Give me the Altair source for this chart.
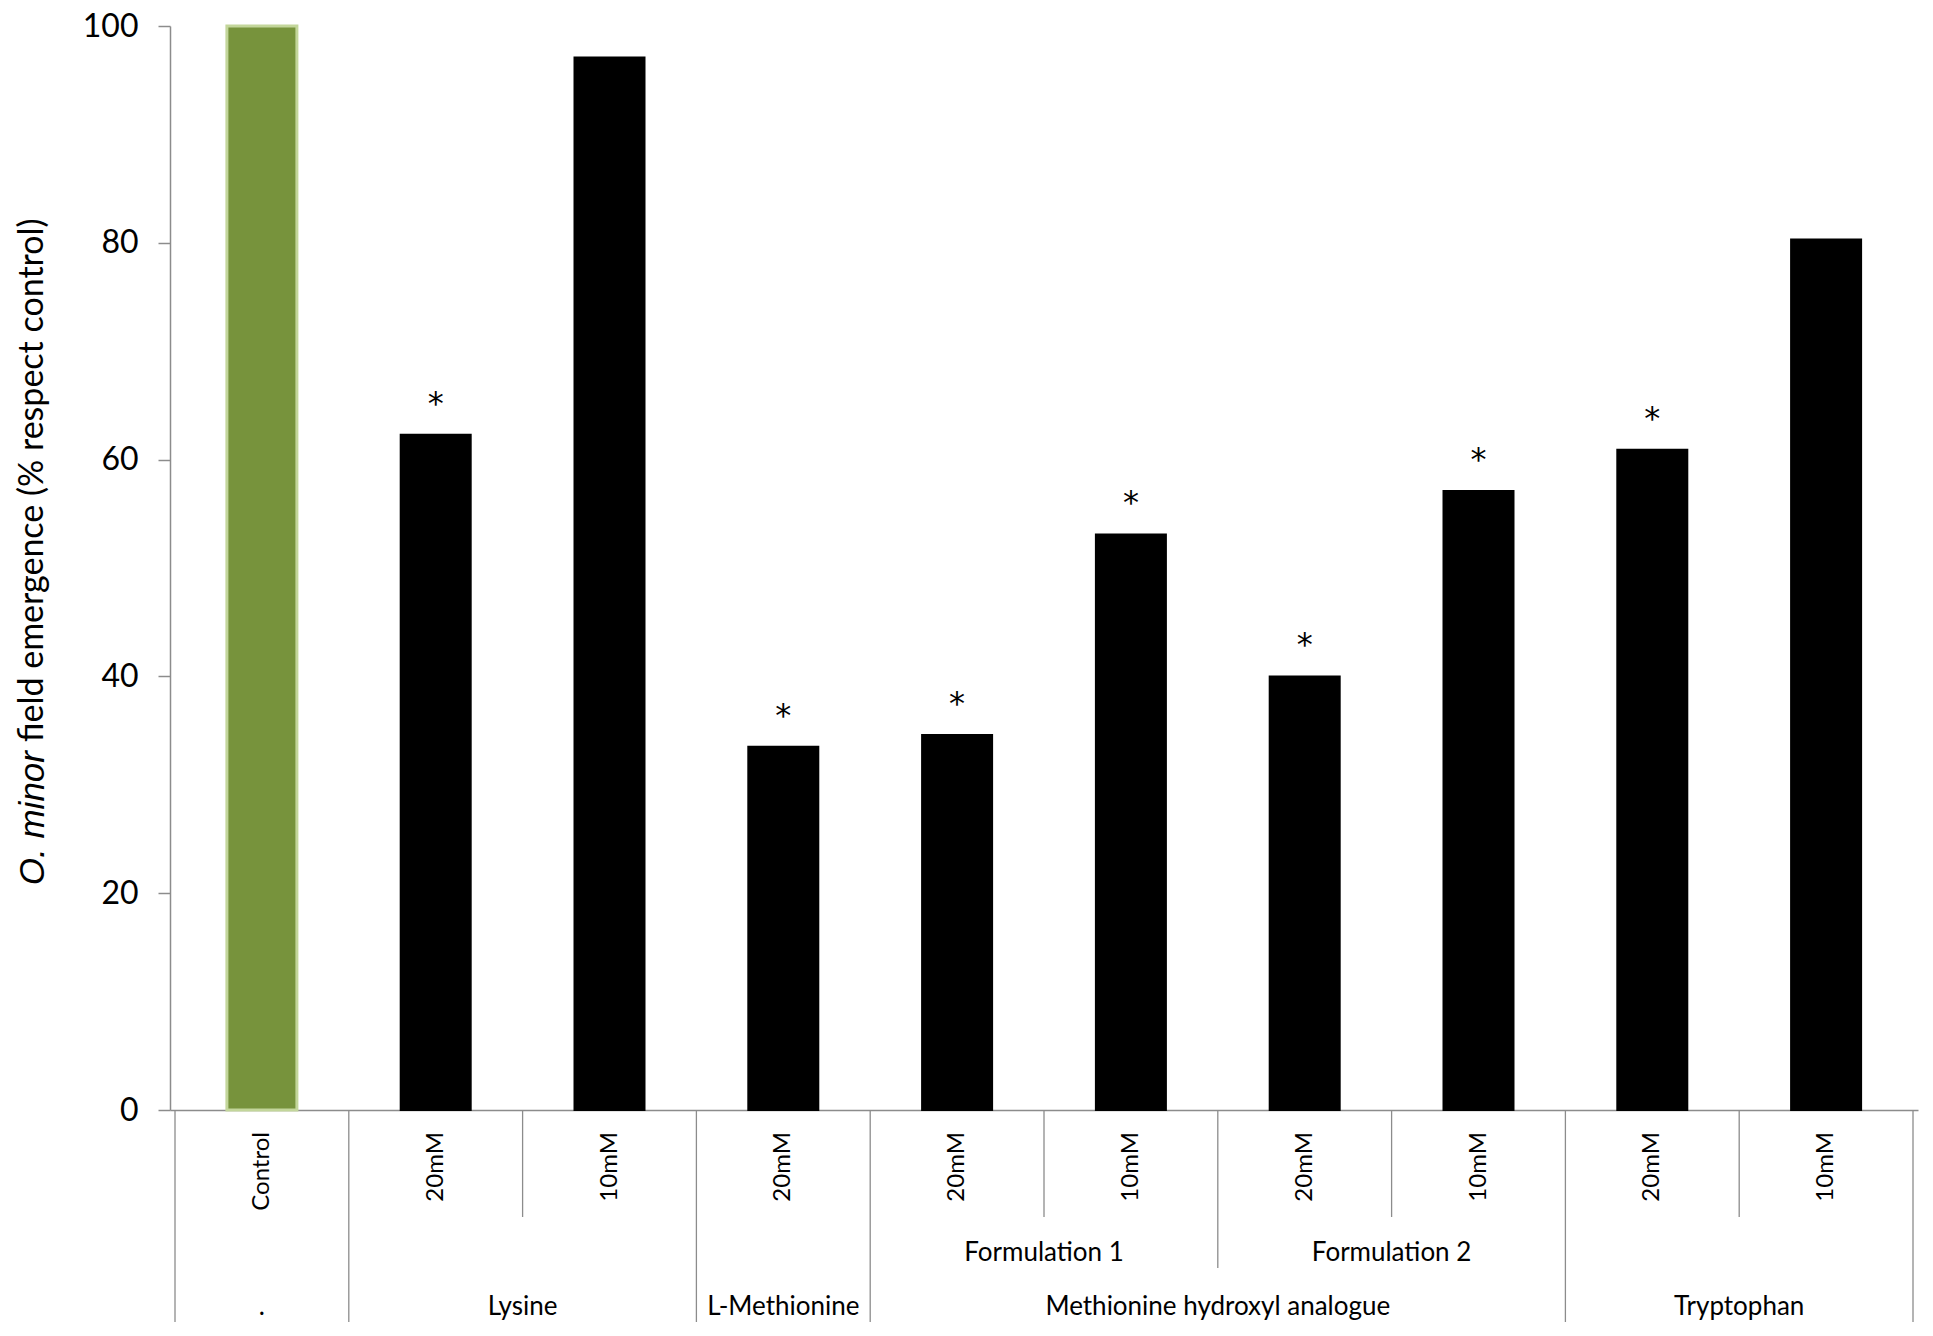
import altair as alt
import pandas as pd

# ---- data ----
labels = ["Control", "20mM", "10mM", "20mM", "20mM", "10mM", "20mM", "10mM", "20mM", "10mM"]
emergence = [100.0, 62.3, 97.1, 33.5, 34.6, 53.1, 40.0, 57.1, 60.9, 80.3]
significant = [False, True, False, True, True, True, True, True, True, False]
formulations = ["", "", "", "", "Formulation 1", "Formulation 1", "Formulation 2", "Formulation 2", "", ""]
compounds = [".", "Lysine", "Lysine", "L-Methionine",
             "Methionine hydroxyl analogue", "Methionine hydroxyl analogue",
             "Methionine hydroxyl analogue", "Methionine hydroxyl analogue",
             "Tryptophan", "Tryptophan"]
bar_kind = ["control"] + ["treatment"] * 9
y_ticks = [0, 20, 40, 60, 80, 100]

# ---- layout ----
W, H = 1748, 1084
GRAY = "#8c8c8c"

n = len(labels)
df = pd.DataFrame({
    "idx": list(range(n)),
    "label": labels,
    "value": emergence,
    "sig": significant,
    "form": formulations,
    "comp": compounds,
    "kind": bar_kind,
})
df["pos"] = df["idx"] + 0.5

# boundaries between categories and how far down they reach
bounds = []
for k in range(n + 1):
    if k == 0 or k == n or compounds[k - 1] != compounds[k]:
        lvl = "full"
    elif formulations[k - 1] != formulations[k]:
        lvl = "mid"
    else:
        lvl = "short"
    bounds.append({"b": k, "level": lvl})
bounds_df = pd.DataFrame(bounds)


def group_centers(col):
    sub = df[df[col] != ""]
    g = sub.groupby(col, sort=False)["idx"].agg(["min", "max"]).reset_index()
    g["center"] = (g["min"] + g["max"] + 1) / 2
    return g.rename(columns={col: "name"})


form_df = group_centers("form")
comp_df = group_centers("comp")

x_scale = alt.Scale(domain=[0, n], nice=False, zero=False)
y_scale = alt.Scale(domain=[0, 100], nice=False)
x_axis = alt.Axis(labels=False, ticks=False, grid=False, title=None,
                  domainColor=GRAY, domainWidth=1.5)
y_axis = alt.Axis(values=y_ticks, grid=False, title=None,
                  labelFont="Lato", labelFontSize=32, labelColor="black",
                  tickSize=12, tickColor=GRAY, tickWidth=1.5,
                  domainColor=GRAY, domainWidth=1.5, labelPadding=20)

base = alt.Chart(df)

bars = base.mark_bar(orient="vertical", size=70).encode(
    x=alt.X("pos:Q", scale=x_scale, axis=x_axis),
    y=alt.Y("value:Q", scale=y_scale, axis=y_axis),
    color=alt.Color("kind:N", scale=alt.Scale(domain=["control", "treatment"],
                                              range=["#77933C", "#000000"]), legend=None),
    stroke=alt.Stroke("kind:N", scale=alt.Scale(domain=["control", "treatment"],
                                                range=["#C3D69B", "#000000"]), legend=None),
    strokeWidth=alt.StrokeWidth("kind:N", scale=alt.Scale(domain=["control", "treatment"],
                                                          range=[3, 2]), legend=None),
)

stars = base.transform_filter(alt.datum.sig).mark_text(
    text="*", font="DejaVu Sans", fontSize=32, baseline="alphabetic", dy=-21, color="black"
).encode(
    x=alt.X("pos:Q", scale=x_scale, axis=x_axis),
    y=alt.Y("value:Q", scale=y_scale, axis=y_axis),
)

rule_layers = []
for lvl, depth in [("short", 107), ("mid", 158), ("full", 212)]:
    rule_layers.append(
        alt.Chart(bounds_df).transform_filter(alt.datum.level == lvl)
        .mark_rule(color=GRAY, strokeWidth=1.3)
        .encode(x=alt.X("b:Q", scale=x_scale, axis=x_axis),
                y=alt.value(H), y2=alt.value(H + depth))
    )

cat_text = base.mark_text(
    angle=270, align="right", baseline="middle", font="Lato",
    fontSize=24, color="black"
).encode(
    x=alt.X("pos:Q", scale=x_scale, axis=x_axis),
    y=alt.value(H + 22),
    text="label:N",
)

form_text = alt.Chart(form_df).mark_text(
    align="center", baseline="middle", font="Lato", fontSize=26, color="black"
).encode(
    x=alt.X("center:Q", scale=x_scale, axis=x_axis),
    y=alt.value(H + 143),
    text="name:N",
)

comp_text = alt.Chart(comp_df).mark_text(
    align="center", baseline="middle", font="Lato", fontSize=26, color="black"
).encode(
    x=alt.X("center:Q", scale=x_scale, axis=x_axis),
    y=alt.value(H + 197),
    text="name:N",
)

title_df = pd.DataFrame({"italic": ["O. minor"], "rest": ["field emergence  (% respect control)"]})
title_it = alt.Chart(title_df).mark_text(
    angle=270, align="right", baseline="middle", font="Liberation Sans", fontSize=35,
    fontStyle="italic", color="black"
).encode(x=alt.value(-137), y=alt.value(725), text="italic:N")
title_rest = alt.Chart(title_df).mark_text(
    angle=270, align="left", baseline="middle", font="Lato", fontSize=34, color="black"
).encode(x=alt.value(-137), y=alt.value(716), text="rest:N")

chart = alt.layer(
    bars, stars, *rule_layers, cat_text, form_text, comp_text, title_it, title_rest
).properties(
    width=W, height=H,
    autosize=alt.AutoSizeParams(type="none"),
    padding={"left": 162, "top": 18, "right": 5, "bottom": 215},
    background="white",
).configure_view(stroke=None)

chart.save("out.html", embed_options={"renderer": "svg", "actions": False})
